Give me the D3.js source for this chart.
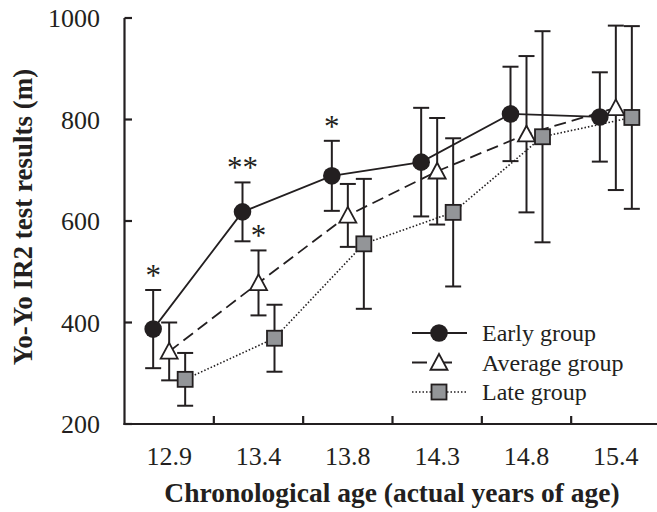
<!DOCTYPE html>
<html><head><meta charset="utf-8">
<script src="https://cdn.jsdelivr.net/npm/d3@7"></script>
<style>body{margin:0;background:#fff}svg{display:block}</style>
</head><body>
<script>
const categories = ["12.9","13.4","13.8","14.3","14.8","15.4"];
const groups = ["Early group","Average group","Late group"];
const earlyMean = [387, 618, 689, 716, 811, 805];
const earlySD   = [77, 58, 69, 107, 93, 88];
const averageMean = [343, 478, 611, 698, 771, 823];
const averageSD   = [57, 64, 62, 105, 154, 162];
const lateMean = [288, 369, 555, 617, 766, 804];
const lateSD   = [52, 66, 128, 146, 208, 180];
const yTicks = [200, 400, 600, 800, 1000];
const significance = [
  {cat:"12.9", group:"Early group", label:"*"},
  {cat:"13.4", group:"Early group", label:"**"},
  {cat:"13.4", group:"Average group", label:"*"},
  {cat:"13.8", group:"Early group", label:"*"}
];

const W = 657, H = 512;
const ink = "#231f20";
const series = [
  {name: groups[0], mean: earlyMean, sd: earlySD, shape: "circle", dash: null, lw: 1.8},
  {name: groups[1], mean: averageMean, sd: averageSD, shape: "triangle", dash: "12,6", lw: 1.8},
  {name: groups[2], mean: lateMean, sd: lateSD, shape: "square", dash: "1.5,2", lw: 1.6}
];

const svg = d3.select("body").append("svg").attr("width", W).attr("height", H);
const x = d3.scaleBand().domain(categories).range([124.5, 660.5]).padding(0);
const off = d3.scalePoint().domain(groups).range([-16, 16]);
const y = d3.scaleLinear().domain([200, 1000]).range([424, 18]);
const cx = (cat, g) => x(cat) + x.bandwidth()/2 + off(g);

// axes
svg.append("line").attr("x1",124.5).attr("x2",124.5).attr("y1",y(1000)).attr("y2",y(200)+1)
  .attr("stroke",ink).attr("stroke-width",2.2);
svg.append("line").attr("x1",123.5).attr("x2",W).attr("y1",y(200)).attr("y2",y(200))
  .attr("stroke",ink).attr("stroke-width",2.2);
svg.selectAll(".yt").data(yTicks).enter().append("line")
  .attr("x1",124.5).attr("x2",132).attr("y1",d=>y(d)).attr("y2",d=>y(d))
  .attr("stroke",ink).attr("stroke-width",2.2);
svg.selectAll(".yl").data(yTicks).enter().append("text")
  .attr("x",100).attr("y",d=>y(d)+9).attr("text-anchor","end")
  .attr("font-family","Liberation Serif").attr("font-size",26).attr("fill",ink).text(d=>d);
svg.selectAll(".xt").data(categories.slice(1)).enter().append("line")
  .attr("x1",d=>x(d)).attr("x2",d=>x(d)).attr("y1",y(200)).attr("y2",y(200)-8)
  .attr("stroke",ink).attr("stroke-width",2.2);
svg.selectAll(".xl").data(categories).enter().append("text")
  .attr("x",d=>x(d)+x.bandwidth()/2).attr("y",465).attr("text-anchor","middle")
  .attr("font-family","Liberation Serif").attr("font-size",26).attr("fill",ink).text(d=>d);
svg.append("text").attr("x",392).attr("y",502).attr("text-anchor","middle")
  .attr("font-family","Liberation Serif").attr("font-weight","bold").attr("font-size",27.5).attr("fill",ink)
  .text("Chronological age (actual years of age)");
svg.append("text").attr("transform","translate(32,217) rotate(-90)").attr("text-anchor","middle")
  .attr("font-family","Liberation Serif").attr("font-weight","bold").attr("font-size",27).attr("fill",ink)
  .text("Yo-Yo IR2 test results (m)");

function drawMarker(g, shape, px, py) {
  if (shape === "circle") {
    g.append("circle").attr("cx",px).attr("cy",py).attr("r",8.8).attr("fill",ink);
  } else if (shape === "triangle") {
    const s = 8.5;
    g.append("path").attr("d",`M${px},${py-s}L${px+s},${py+s*0.85}L${px-s},${py+s*0.85}Z`)
      .attr("fill","#fff").attr("stroke",ink).attr("stroke-width",1.8);
  } else {
    g.append("rect").attr("x",px-7.5).attr("y",py-7.5).attr("width",15).attr("height",15)
      .attr("fill","#939598").attr("stroke",ink).attr("stroke-width",1.8);
  }
}

// lines (drawn first), error bars, markers
series.forEach(s => {
  const line = d3.line().x((d,i)=>cx(categories[i], s.name)).y(d=>y(d));
  svg.append("path").attr("d", line(s.mean)).attr("fill","none").attr("stroke",ink)
    .attr("stroke-width",s.lw).attr("stroke-dasharray",s.dash);
});
series.forEach(s => {
  const g = svg.append("g");
  s.mean.forEach((m,i) => {
    const px = cx(categories[i], s.name);
    const t = y(m + s.sd[i]), b = y(m - s.sd[i]);
    g.append("line").attr("x1",px).attr("x2",px).attr("y1",t).attr("y2",b).attr("stroke",ink).attr("stroke-width",2);
    [t,b].forEach(v => g.append("line").attr("x1",px-8).attr("x2",px+8).attr("y1",v).attr("y2",v)
      .attr("stroke",ink).attr("stroke-width",2));
  });
});
series.forEach(s => {
  const g = svg.append("g");
  s.mean.forEach((m,i) => drawMarker(g, s.shape, cx(categories[i], s.name), y(m)));
});

// significance marks
significance.forEach(d => {
  const s = series.find(q => q.name === d.group);
  const i = categories.indexOf(d.cat);
  svg.append("text").attr("x", cx(d.cat, d.group)).attr("y", y(s.mean[i] + s.sd[i]) - 4)
    .attr("text-anchor","middle").attr("font-family","Liberation Serif").attr("font-size",31)
    .attr("fill",ink).text(d.label);
});

// legend
const lg = svg.append("g");
series.forEach((s, k) => {
  const ly = 333 + k*29.5;
  lg.append("line").attr("x1",412).attr("x2",467).attr("y1",ly).attr("y2",ly)
    .attr("stroke",ink).attr("stroke-width",s.lw)
    .attr("stroke-dasharray", s.shape==="triangle" ? "15,10,15" : s.dash);
  drawMarker(lg, s.shape, 439, ly);
  lg.append("text").attr("x",482).attr("y",ly+8).attr("font-family","Liberation Serif")
    .attr("font-size",24).attr("fill",ink).text(s.name);
});
</script>
</body></html>
